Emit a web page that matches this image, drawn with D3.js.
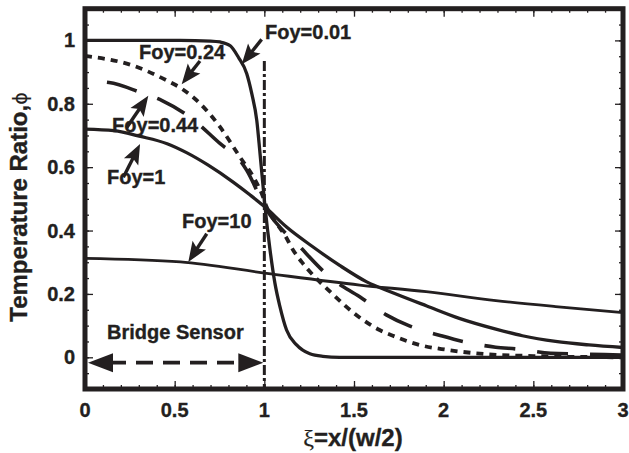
<!DOCTYPE html>
<html>
<head>
  <meta charset="utf-8">
  <title>Temperature Ratio</title>
  <script src="https://d3js.org/d3.v7.min.js"></script>
  <style>
  body { margin: 0; background: #fff; }
  text { font-family: "Liberation Sans", Arial, sans-serif; font-weight: bold; fill: #231f20; stroke: #231f20; stroke-width: 0.35px; }
</style>
</head>
<body>
  <div id="chart"></div>
  <script>
// values (xi, phi)
var xi001  = [0, 0.53, 0.7, 0.754, 0.81, 0.856, 0.902, 0.93, 0.958, 0.976, 1.004, 1.032, 1.059, 1.087, 1.124, 1.18, 1.254, 1.326, 1.42, 2, 3];
var phi001 = [1, 1, 0.998, 0.995, 0.983, 0.946, 0.895, 0.832, 0.747, 0.643, 0.474, 0.338, 0.234, 0.16, 0.086, 0.039, 0.011, 0.003, 0, 0, 0];

var xi024  = [0, 0.27, 0.458, 0.541, 0.643, 0.754, 0.865, 0.939, 0.986, 1.013, 1.078, 1.115, 1.161, 1.208, 1.272, 1.337, 1.55, 1.643, 1.717, 1.865, 2.013, 2.236, 2.5, 3];
var phi024 = [0.951, 0.92, 0.873, 0.847, 0.8, 0.726, 0.631, 0.569, 0.516, 0.474, 0.415, 0.385, 0.338, 0.301, 0.259, 0.223, 0.118, 0.086, 0.068, 0.039, 0.024, 0.01, 0.004, 0];

var xi044  = [0, 0.134, 0.309, 0.43, 0.587, 0.754, 0.865, 0.902, 1.004, 1.208, 1.374, 1.532, 1.68, 1.809, 1.986, 2.106, 2.29, 2.411, 2.597, 2.8, 3];
var phi044 = [0.872, 0.867, 0.836, 0.81, 0.757, 0.674, 0.621, 0.59, 0.474, 0.343, 0.249, 0.191, 0.134, 0.099, 0.068, 0.05, 0.032, 0.026, 0.013, 0.01, 0.007];

var xi1  = [0, 0.161, 0.309, 0.458, 0.569, 0.685, 0.828, 0.921, 1.004, 1.124, 1.272, 1.42, 1.571, 1.72, 1.906, 2.087, 2.291, 2.439, 2.624, 2.81, 3];
var phi1 = [0.72, 0.715, 0.697, 0.674, 0.645, 0.607, 0.552, 0.512, 0.474, 0.411, 0.348, 0.29, 0.238, 0.203, 0.162, 0.123, 0.089, 0.068, 0.05, 0.039, 0.031];

var xi10  = [0, 0.532, 1.013, 1.532, 1.902, 2.291, 2.624, 3];
var phi10 = [0.312, 0.301, 0.265, 0.228, 0.207, 0.179, 0.16, 0.141];

var xTickLabels = ["0", "0.5", "1", "1.5", "2", "2.5", "3"];
var yTickLabels = ["0", "0.2", "0.4", "0.6", "0.8", "1"];

// label text, label anchor (xi, phi), arrow tail and tip (xi, phi)
var labelNames = ["Foy=0.01", "Foy=0.24", "Foy=0.44", "Foy=1", "Foy=10"];
var labelPos   = [[1.004, 1.004], [0.301, 0.942], [0.151, 0.712], [0.123, 0.547], [0.541, 0.407]];
var arrowTail  = [[0.985, 1.003], [0.641, 0.935], [0.233, 0.725], [0.214, 0.568], [0.679, 0.39]];
var arrowTip   = [[0.874, 0.925], [0.539, 0.862], [0.353, 0.825], [0.307, 0.673], [0.576, 0.301]];

var width = 629, height = 453;
var plotL = 85, plotR = 623, plotT = 8.7, plotB = 389;

var svg = d3.select("#chart").append("svg")
  .attr("width", width)
  .attr("height", height);

var x = d3.scaleLinear().domain([0, 3]).range([plotL, plotR]);
var y = d3.scaleLinear().domain([-0.1, 1.1]).range([plotB, plotT]);

// ticks on all four sides, pointing in
function tickAxis(axis, transform) {
  var g = svg.append("g").attr("transform", transform).call(axis);
  g.select(".domain").remove();
  g.selectAll("line").attr("stroke", "#231f20").attr("stroke-width", 1.3);
  g.selectAll("text").remove();
  return g;
}
var xMinor = d3.range(0, 3.001, 0.1);
var yMinor = d3.range(-0.1, 1.101, 0.05);
var xMajor = d3.range(0, 3.001, 0.5);
var yMajor = d3.range(0, 1.001, 0.2);

tickAxis(d3.axisTop(x).tickValues(xMinor).tickSize(4), "translate(0," + plotB + ")");
tickAxis(d3.axisTop(x).tickValues(xMajor).tickSize(8), "translate(0," + plotB + ")");
tickAxis(d3.axisBottom(x).tickValues(xMinor).tickSize(4), "translate(0," + plotT + ")");
tickAxis(d3.axisBottom(x).tickValues(xMajor).tickSize(8), "translate(0," + plotT + ")");
tickAxis(d3.axisRight(y).tickValues(yMinor).tickSize(4), "translate(" + plotL + ",0)");
tickAxis(d3.axisRight(y).tickValues(yMajor).tickSize(8), "translate(" + plotL + ",0)");
tickAxis(d3.axisLeft(y).tickValues(yMinor).tickSize(4), "translate(" + plotR + ",0)");
tickAxis(d3.axisLeft(y).tickValues(yMajor).tickSize(8), "translate(" + plotR + ",0)");

// tick labels
svg.selectAll(".xlab").data(xTickLabels).enter().append("text")
  .attr("x", function(d) { return x(+d); })
  .attr("y", 417)
  .attr("text-anchor", "middle")
  .style("font-size", "20px")
  .text(function(d) { return d; });

svg.selectAll(".ylab").data(yTickLabels).enter().append("text")
  .attr("x", 75)
  .attr("y", function(d) { return y(+d) + 7; })
  .attr("text-anchor", "end")
  .style("font-size", "20px")
  .text(function(d) { return d; });

// curves
var line = d3.line()
  .x(function(d) { return x(d[0]); })
  .y(function(d) { return y(d[1]); })
  .curve(d3.curveMonotoneX);

function series(xs, ys) { return xs.map(function(v, i) { return [v, ys[i]]; }); }

var curves = [
  { pts: series(xi10, phi10), w: 2.8, dash: null, off: 0 },
  { pts: series(xi1, phi1), w: 3.3, dash: null, off: 0 },
  { pts: series(xi044, phi044), w: 3.6, dash: "31,22", off: 31 },
  { pts: series(xi024, phi024), w: 3.8, dash: "7,6", off: 0 },
  { pts: series(xi001, phi001), w: 3.3, dash: null, off: 0 }
];

svg.selectAll(".curve").data(curves).enter().append("path")
  .attr("d", function(d) { return line(d.pts); })
  .attr("fill", "none")
  .attr("stroke", "#231f20")
  .attr("stroke-width", function(d) { return d.w; })
  .attr("stroke-dasharray", function(d) { return d.dash; })
  .attr("stroke-dashoffset", function(d) { return d.off; });

// sensor edge, dash-dot
svg.append("line")
  .attr("x1", x(1)).attr("x2", x(1))
  .attr("y1", y(0.935)).attr("y2", y(-0.1))
  .attr("stroke", "#231f20")
  .attr("stroke-width", 3)
  .attr("stroke-dasharray", "10,3,3,3");

// arrowhead drawn as a polygon at the tip
function arrowHead(tipX, tipY, ang, len, half) {
  var c = Math.cos(ang), s = Math.sin(ang);
  var bx = tipX - len * c, by = tipY - len * s;
  var nx = tipX - (len - 4) * c, ny = tipY - (len - 4) * s;
  return [[tipX, tipY], [bx - half * s, by + half * c], [nx, ny], [bx + half * s, by - half * c]];
}

function drawArrow(t, p, len, half) {
  var x1 = x(t[0]), y1 = y(t[1]), x2 = x(p[0]), y2 = y(p[1]);
  var ang = Math.atan2(y2 - y1, x2 - x1);
  svg.append("line")
    .attr("x1", x1).attr("y1", y1)
    .attr("x2", x2 - (len - 5) * Math.cos(ang)).attr("y2", y2 - (len - 5) * Math.sin(ang))
    .attr("stroke", "#231f20").attr("stroke-width", 3.4);
  svg.append("polygon")
    .attr("points", arrowHead(x2, y2, ang, len, half).join(" "))
    .attr("fill", "#231f20");
}

labelNames.forEach(function(name, i) {
  drawArrow(arrowTail[i], arrowTip[i], 20, 8);
  svg.append("text")
    .attr("x", x(labelPos[i][0]))
    .attr("y", y(labelPos[i][1]))
    .style("font-size", "20px")
    .text(name);
});

// bridge sensor span
var by0 = y(-0.017);
svg.append("line")
  .attr("x1", x(0) + 24).attr("x2", x(1) - 24)
  .attr("y1", by0).attr("y2", by0)
  .attr("stroke", "#231f20").attr("stroke-width", 3.8)
  .attr("stroke-dasharray", "17,10");
svg.append("polygon")
  .attr("points", [[x(0) + 3, by0], [x(0) + 28, by0 - 9.5], [x(0) + 28, by0 + 9.5]].join(" "))
  .attr("fill", "#231f20");
svg.append("polygon")
  .attr("points", [[x(1) - 1, by0], [x(1) - 26, by0 - 9.5], [x(1) - 26, by0 + 9.5]].join(" "))
  .attr("fill", "#231f20");
svg.append("text")
  .attr("x", x(0.123)).attr("y", y(0.058))
  .style("font-size", "20px")
  .text("Bridge Sensor");

// frame
svg.append("rect")
  .attr("x", plotL).attr("y", plotT)
  .attr("width", plotR - plotL).attr("height", plotB - plotT)
  .attr("fill", "none")
  .attr("stroke", "#231f20")
  .attr("stroke-width", 5);

// axis titles
var xt = svg.append("text")
  .attr("x", 353).attr("y", 446)
  .attr("text-anchor", "middle")
  .style("font-size", "24px");
xt.append("tspan").style("font-family", "'Liberation Serif', serif").style("font-weight", "normal").style("stroke-width", "0.2px").text("ξ");
xt.append("tspan").text("=x/(w/2)");

var yt = svg.append("text")
  .attr("transform", "translate(27,207) rotate(-90)")
  .attr("text-anchor", "middle")
  .style("font-size", "24px");
yt.append("tspan").text("Temperature Ratio,");
yt.append("tspan").style("font-family", "'DejaVu Sans', sans-serif").style("font-weight", "normal").style("stroke-width", "0.1px").style("font-size", "19px").text("ϕ");
</script>
</body>
</html>
